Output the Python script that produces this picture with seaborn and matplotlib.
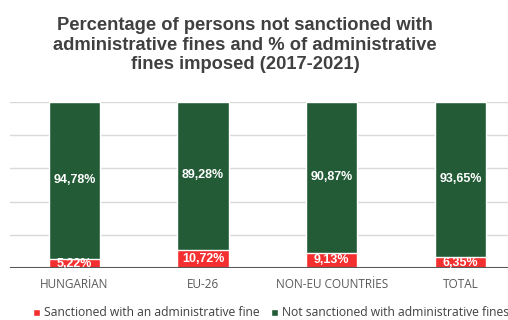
import matplotlib
matplotlib.use("Agg")
import matplotlib.pyplot as plt
import seaborn as sns
import pandas as pd
from matplotlib.patches import Patch

categories = ["HUNGARİAN", "EU-26", "NON-EU COUNTRİES", "TOTAL"]
sanctioned = [5.22, 10.72, 9.13, 6.35]
not_sanctioned = [94.78, 89.28, 90.87, 93.65]
series_names = ["Sanctioned with an administrative fine", "Not sanctioned with administrative fines"]
title = "Percentage of persons not sanctioned with\nadministrative fines and % of administrative\nfines imposed (2017-2021)"

RED = "#f42f2f"
GREEN = "#225b36"

sns.set_theme(style="white")
plt.rcParams['font.family'] = ['Liberation Sans', 'DejaVu Sans']

fig = plt.figure(figsize=(5.08, 3.2), dpi=100)
ax = fig.add_axes([10/508, 1 - 268/320, 1 - 10/508, 166/320])

df = pd.DataFrame({"cat": categories, "total": [a + b for a, b in zip(sanctioned, not_sanctioned)],
                   "red": sanctioned})
sns.barplot(data=df, x="cat", y="total", color=GREEN, width=0.4, ax=ax, saturation=1, zorder=2)
sns.barplot(data=df, x="cat", y="red", color=RED, width=0.4, ax=ax, saturation=1, zorder=3)

ax.set_ylim(0, 100)
ax.set_xlim(-0.5, 3.37)
for y in [20, 40, 60, 80, 100]:
    ax.axhline(y, color="#d9d9d9", lw=1, zorder=1)
ax.axhline(0, color="#595959", lw=1.5, zorder=4)
for s in ax.spines.values():
    s.set_visible(False)
ax.set_yticks([])
ax.set_xlabel("")
ax.set_ylabel("")
ax.tick_params(axis="x", length=0, pad=7)
ax.set_xticks(range(len(categories)))
ax.set_xticklabels(categories, fontsize=8.5, color="#595959", family=["Open Sans", "DejaVu Sans"])

for i, (r, g) in enumerate(zip(sanctioned, not_sanctioned)):
    ax.text(i, r + g / 2 + 0.5, f"{g:.2f}%".replace(".", ","), ha="center", va="center",
            color="white", fontsize=9, fontweight="bold", zorder=5)
    ax.text(i, max(r / 2, 2.6), f"{r:.2f}%".replace(".", ","), ha="center", va="center",
            color="white", fontsize=9, fontweight="bold", zorder=5)

fig.text(245/508, 1 - 45/320, title, ha="center", va="center", fontsize=13.2,
         fontweight="bold", color="#404040", linespacing=1.22)

handles = [Patch(facecolor=RED, label=series_names[0]), Patch(facecolor=GREEN, label=series_names[1])]
leg = fig.legend(handles=handles, loc="center", bbox_to_anchor=(271/508, 1 - 313/320), ncol=2,
                 frameon=False, handlelength=0.55, handleheight=0.55,
                 handletextpad=0.3, columnspacing=1.0,
                 prop={"family": ["Open Sans", "DejaVu Sans"], "size": 8.7})
for t in leg.get_texts():
    t.set_color("#404040")

fig.savefig("out.png", dpi=100)
